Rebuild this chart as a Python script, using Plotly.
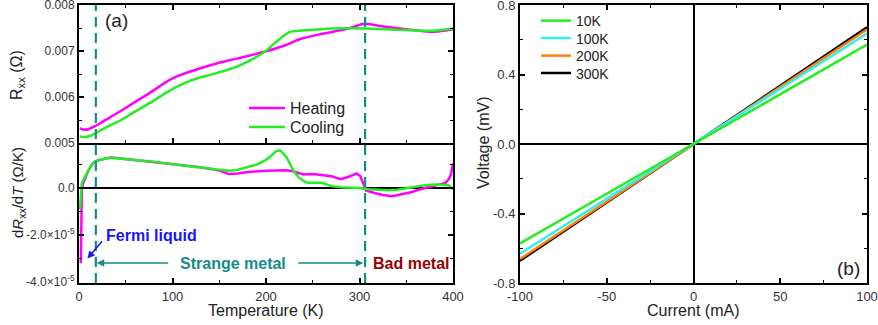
import plotly.graph_objects as go

# ---------------- Panel (a), top: R_xx vs T ----------------
T_R_heat = [1, 3, 6, 10, 18, 30, 45, 58, 75, 99, 120, 147, 170, 199, 220, 236,
            255, 272, 290, 305, 320, 343, 360, 378, 390, 400]
R_heat = [0.005325, 0.005300, 0.005290, 0.005300, 0.005375, 0.005520, 0.005700,
          0.005867, 0.006080, 0.006395, 0.006560, 0.006730, 0.006840, 0.006988,
          0.007120, 0.007255, 0.007350, 0.007420, 0.007500, 0.007590, 0.007550,
          0.007490, 0.007450, 0.007420, 0.007440, 0.007480]

T_R_cool = [1, 5, 10, 18, 30, 45, 58, 75, 99, 120, 147, 170, 199, 211, 225, 236,
            255, 272, 305, 343, 378, 400]
R_cool = [0.005144, 0.005130, 0.005140, 0.005216, 0.005350, 0.005500, 0.005660,
          0.005860, 0.006160, 0.006360, 0.006520, 0.006670, 0.006990, 0.007200,
          0.007410, 0.007440, 0.007470, 0.007490, 0.007490, 0.007460, 0.007440,
          0.007490]

# ---------------- Panel (a), bottom: dR_xx/dT vs T (units of 1e-5 Ohm/K) ----------------
T_d_heat = [2.0, 2.3, 2.6, 3.0, 4, 6, 8, 10, 13, 16, 20, 25, 30, 35, 40, 50, 60, 70,
            80, 90, 100, 110, 120, 130, 140, 150, 160, 170, 180, 190, 200, 210, 220,
            228, 235, 240, 250, 260, 270, 280, 290, 297, 301, 304, 307, 315, 325,
            335, 345, 355, 365, 375, 385, 392, 396, 398, 400]
dR_heat = [-3.20, -2.00, -0.80, -0.10, 0.15, 0.35, 0.55, 0.75, 0.95, 1.10, 1.17,
           1.23, 1.27, 1.30, 1.28, 1.24, 1.20, 1.16, 1.12, 1.07, 1.03, 0.98, 0.93,
           0.88, 0.82, 0.74, 0.60, 0.62, 0.68, 0.72, 0.73, 0.75, 0.76, 0.72, 0.62,
           0.58, 0.60, 0.56, 0.50, 0.38, 0.50, 0.62, 0.50, 0.20, -0.10, -0.20, -0.30,
           -0.35, -0.28, -0.18, -0.05, 0.05, 0.12, 0.22, 0.40, 0.60, 1.05]

T_d_cool = [1, 2, 3, 4, 6, 8, 10, 13, 16, 20, 25, 30, 35, 40, 50, 60, 70, 80, 90,
            100, 110, 120, 130, 140, 150, 160, 170, 180, 190, 200, 205, 210, 215,
            218, 222, 226, 230, 235, 240, 245, 250, 255, 260, 265, 270, 280, 290,
            300, 310, 320, 330, 340, 350, 360, 370, 380, 390, 395, 400]
dR_cool = [-0.90, -0.30, 0.20, 0.30, 0.45, 0.60, 0.75, 0.95, 1.10, 1.17, 1.22, 1.27,
           1.30, 1.27, 1.24, 1.20, 1.16, 1.12, 1.07, 1.03, 0.98, 0.92, 0.87, 0.82,
           0.75, 0.73, 0.78, 0.88, 1.00, 1.20, 1.35, 1.55, 1.60, 1.50, 1.30, 1.00,
           0.70, 0.45, 0.30, 0.22, 0.22, 0.23, 0.22, 0.15, 0.08, 0.03, 0.02, 0.00,
           -0.05, -0.08, -0.10, -0.07, 0.00, 0.07, 0.12, 0.15, 0.15, 0.12, -0.05]
D_SCALE = 1e-5

# Regime boundaries (K)
T_boundaries = [18, 306]

# ---------------- Panel (b): I-V curves ----------------
current = [-100, -50, 0, 50, 100]
iv_labels = ["10K", "100K", "200K", "300K"]
iv_voltage = {
    "10K":  [-0.572, -0.286, 0.0, 0.286, 0.572],
    "100K": [-0.632, -0.316, 0.0, 0.316, 0.636],
    "200K": [-0.662, -0.331, 0.0, 0.330, 0.659],
    "300K": [-0.672, -0.336, 0.0, 0.336, 0.671],
}
iv_colors = {"10K": "#22EE22", "100K": "#33EEEE", "200K": "#FF7F0E", "300K": "#000000"}

W, H = 878, 325
def px_x(p):
    return p / W
def px_y(p):
    return (H - p) / H

xa = [px_x(79), px_x(453)]
xb = [px_x(520), px_x(867)]
y_top = [px_y(143), px_y(5)]
y_bot = [px_y(283), px_y(143)]

FONT = "Liberation Sans, Arial, sans-serif"
TEAL = "#178A8A"

# one small legend per entry so the entries sit at the reference spacing
legend_a_rows = {"Heating": 108, "Cooling": 127}
legend_b_rows = {"10K": 21, "100K": 38.5, "200K": 56, "300K": 73.5}
legend_ids = {}
n = 1
for name in list(legend_a_rows) + list(legend_b_rows):
    legend_ids[name] = "legend" if n == 1 else f"legend{n}"
    n += 1

fig = go.Figure()

fig.add_trace(go.Scatter(x=T_R_heat, y=R_heat, mode="lines", name="Heating",
                         line=dict(color="#FF00FF", width=2.5, shape="spline", smoothing=1.0),
                         xaxis="x", yaxis="y", legend=legend_ids["Heating"]))
fig.add_trace(go.Scatter(x=T_R_cool, y=R_cool, mode="lines", name="Cooling",
                         line=dict(color="#22EE22", width=2.5, shape="spline", smoothing=1.0),
                         xaxis="x", yaxis="y", legend=legend_ids["Cooling"]))

fig.add_trace(go.Scatter(x=T_d_heat, y=[v * D_SCALE for v in dR_heat], mode="lines",
                         showlegend=False, line=dict(color="#FF00FF", width=2.5),
                         xaxis="x2", yaxis="y2"))
fig.add_trace(go.Scatter(x=T_d_cool, y=[v * D_SCALE for v in dR_cool], mode="lines",
                         showlegend=False, line=dict(color="#22EE22", width=2.5),
                         xaxis="x2", yaxis="y2"))

for lab in reversed(iv_labels):
    fig.add_trace(go.Scatter(x=current, y=iv_voltage[lab], mode="lines", name=lab,
                             line=dict(color=iv_colors[lab], width=2.5),
                             xaxis="x3", yaxis="y3", legend=legend_ids[lab]))

axis_common = dict(showline=True, linecolor="black", linewidth=2, mirror="ticks",
                   ticks="inside", ticklen=5, tickwidth=1.5, tickcolor="black",
                   showgrid=False, zeroline=False, automargin=False,
                   ticklabeloverflow="allow",
                   tickfont=dict(family=FONT, size=13, color="#333"))
minor_common = dict(ticks="inside", ticklen=3, tickwidth=1.2, tickcolor="black", showgrid=False)

layout_legends = {}
for name, row in legend_a_rows.items():
    layout_legends[legend_ids[name]] = dict(
        x=px_x(244), y=px_y(row), xanchor="left", yanchor="middle",
        bgcolor="rgba(0,0,0,0)", itemwidth=36,
        font=dict(family=FONT, size=16, color="#222"))
for name, row in legend_b_rows.items():
    layout_legends[legend_ids[name]] = dict(
        x=px_x(536), y=px_y(row), xanchor="left", yanchor="middle",
        bgcolor="rgba(0,0,0,0)", itemwidth=30,
        font=dict(family=FONT, size=14, color="#222"))

fig.update_layout(
    template="none",
    width=W, height=H, margin=dict(l=0, r=0, t=0, b=0, pad=0),
    plot_bgcolor="white", paper_bgcolor="white",
    font=dict(family=FONT, color="#222"),
    xaxis=dict(axis_common, domain=xa, range=[0, 400], anchor="y", showticklabels=False,
               dtick=100, minor=dict(minor_common, dtick=50), matches="x2"),
    yaxis=dict(axis_common, domain=y_top, range=[0.005, 0.008], anchor="x",
               tickvals=[0.005, 0.006, 0.007, 0.008],
               ticktext=["0.005", "0.006", "0.007", "0.008"],
               tickfont=dict(family=FONT, size=12, color="#333"),
               minor=dict(minor_common, dtick=0.0005)),
    xaxis2=dict(axis_common, domain=xa, range=[0, 400], anchor="y2", mirror=False,
                tickvals=[0, 100, 200, 300, 400],
                ticktext=["0", "100", "200", "300", "400"],
                minor=dict(minor_common, dtick=50)),
    yaxis2=dict(axis_common, domain=y_bot, range=[-4.04e-5, 1.915e-5], anchor="x2",
                tickvals=[-4e-5, -2e-5, 0],
                ticktext=["-4.0×10<sup>-5</sup>", "-2.0×10<sup>-5</sup>", "0.0"],
                tickfont=dict(family=FONT, size=12, color="#333"),
                zeroline=True, zerolinecolor="black", zerolinewidth=2,
                minor=dict(minor_common, dtick=1e-5)),
    xaxis3=dict(axis_common, domain=xb, range=[-100, 100], anchor="y3",
                tickvals=[-100, -50, 0, 50, 100],
                ticktext=["-100", "-50", "0", "50", "100"],
                zeroline=True, zerolinecolor="black", zerolinewidth=2,
                minor=dict(minor_common, dtick=25)),
    yaxis3=dict(axis_common, domain=[y_bot[0], y_top[1]], range=[-0.8, 0.8], anchor="x3",
                tickvals=[-0.8, -0.4, 0.0, 0.4, 0.8],
                ticktext=["-0.8", "-0.4", "0.0", "0.4", "0.8"],
                zeroline=True, zerolinecolor="black", zerolinewidth=2,
                minor=dict(minor_common, dtick=0.2)),
    **layout_legends,
)

# Dashed regime boundaries across both (a) panels
for tb in T_boundaries:
    fig.add_shape(type="line", xref="x", yref="paper", x0=tb, x1=tb,
                  y0=y_bot[0], y1=y_top[1],
                  line=dict(color=TEAL, width=2.2, dash="10px,6px"))

def txt(text, x, y, size=16, color="#222", angle=0, xref="paper", yref="paper"):
    return dict(text=text, x=x, y=y, xref=xref, yref=yref, textangle=angle,
                xanchor="center", yanchor="middle", showarrow=False,
                font=dict(family=FONT, size=size, color=color))

def arrow(x, y, ax, ay, color):
    return dict(text="", x=x, y=y, ax=ax, ay=ay, xref="x2", yref="y2",
                axref="x2", ayref="y2", showarrow=True, arrowhead=2, arrowsize=1,
                arrowwidth=1.5, arrowcolor=color)

ann = [
    txt("R<sub>xx</sub> (Ω)", px_x(18), px_y(75), angle=-90),
    txt("d<i>R</i><sub>xx</sub>/d<i>T</i> (Ω/K)", px_x(18), px_y(193), size=15, angle=-90),
    txt("Temperature (K)", px_x(266), px_y(310)),
    txt("Current (mA)", px_x(693), px_y(310)),
    txt("Voltage (mV)", px_x(484), px_y(143), angle=-90),
    txt("(a)", px_x(116), px_y(20), size=19),
    txt("(b)", px_x(848), px_y(268), size=19),
    txt("<b>Fermi liquid</b>", 78, -2.0e-5, color="#1515FF", xref="x2", yref="y2"),
    arrow(9, -3.0e-5, 26, -2.2e-5, "#1515FF"),
    txt("<b>Strange metal</b>", 165, -3.19e-5, color=TEAL, xref="x2", yref="y2"),
    arrow(19, -3.19e-5, 97, -3.19e-5, TEAL),
    arrow(304, -3.19e-5, 233, -3.19e-5, TEAL),
    txt("<b>Bad metal</b>", 355, -3.19e-5, color="#990000", xref="x2", yref="y2"),
]
fig.update_layout(annotations=ann)

fig.write_html("out.html", config={"displayModeBar": False},
               post_script="document.body.style.margin='0';document.body.style.padding='0';")
